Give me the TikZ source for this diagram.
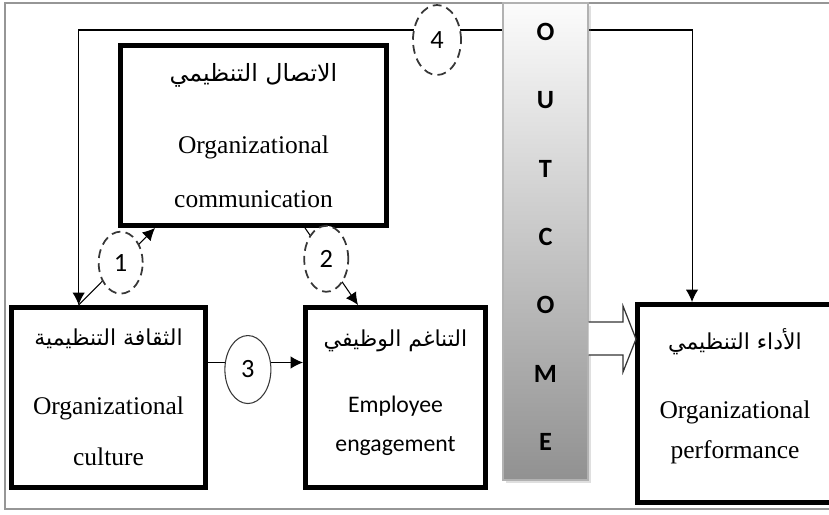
\documentclass[tikz,border=0pt]{standalone}
\usepackage{fontspec}
\setmainfont{Liberation Serif}
\newfontfamily\calfont{Carlito}
\newfontfamily\arabicfont[Script=Arabic]{DejaVu Sans}
\TeXXeTstate=1
\usetikzlibrary{arrows.meta,shapes.geometric,calc,shadows}
\definecolor{framegray}{RGB}{150,150,150}
\definecolor{dashgray}{RGB}{55,55,55}
\definecolor{bartop}{RGB}{252,252,252}
\definecolor{barbottom}{RGB}{145,145,145}

\newcommand{\artext}[1]{{\arabicfont\fontsize{12.5}{14}\selectfont\beginR #1\endR}}

\tikzset{
  varbox/.style={draw,line width=2.8pt,fill=white,align=center,inner sep=0pt,
    font=\fontsize{14.5}{17}\selectfont},
  link/.style={-{Latex[length=7pt,width=7pt]},line width=0.6pt},
  numdash/.style={ellipse,draw=dashgray,dash pattern=on 5pt off 3pt,line width=1pt,
    fill=white,inner sep=0pt,minimum width=0.88cm,minimum height=1.24cm,
    font=\calfont\fontsize{15}{15}\selectfont},
  numsolid/.style={ellipse,draw=dashgray,line width=0.6pt,fill=white,inner sep=0pt,
    minimum width=0.92cm,minimum height=1.36cm,font=\calfont\fontsize{15}{15}\selectfont},
  letter/.style={font=\calfont\bfseries\fontsize{15}{15}\selectfont}
}

\begin{document}
\begin{tikzpicture}[x=0.2mm,y=-0.2mm]
  \useasboundingbox (0,0) rectangle (829,514);
  \clip (0,0) rectangle (829,514);
  \draw[framegray,line width=0.8pt] (5,3) rectangle (850,509);

  % variables
  \node[varbox,minimum width=5.32cm,minimum height=3.6cm] (comm) at (253.5,135.5)
    {\artext{\fontsize{13.5}{14}\selectfont الاتصال التنظيمي}\\[24pt] Organizational\\[14pt] communication};
  \node[varbox,minimum width=3.88cm,minimum height=3.6cm] (culture) at (108.5,397.5)
    {\artext{الثقافة التنظيمية}\\[22pt] Organizational\\[12pt] culture};
  \node[varbox,minimum width=3.6cm,minimum height=3.6cm,
    font=\calfont\fontsize{13.5}{16}\selectfont] (engage) at (395.5,397.5)
    {\artext{التناغم الوظيفي}\\[22pt] Employee\\[6pt] engagement\\[-8pt]{}};
  \node[varbox,minimum width=3.9cm,minimum height=3.96cm] (perf) at (735,403.5)
    {\artext{الأداء التنظيمي}\\[22pt] Organizational\\[6pt] performance\\[-6pt]{}};

  \coordinate (cultin) at ($(culture.north west)!0.35!(culture.north east)$);
  \coordinate (perfin) at ($(perf.north west)+(57,0)$);
  \coordinate (fb) at (437,30);

  % feedback loop over the top
  \draw[{Latex[length=7pt,width=7pt]}-{Latex[length=7pt,width=7pt]},line width=0.6pt]
    (cultin) |- (fb) -| (perfin);
  \node[numdash,minimum width=0.96cm,minimum height=1.4cm] (n4) at (437,40) {4};

  % paths 1, 2, 3
  \draw[link] (cultin) -- node[numdash,pos=0.55] (n1) {1}
    ($(comm.south west)+(37,0)$);
  \draw[link] ($(comm.south west)+(187,0)$) -- node[numdash,pos=0.4,
    minimum height=1.32cm] (n2) {2} ($(engage.north west)+(55,0)$);
  \draw[link] ($(culture.east)+(0,-35)$) coordinate (c3a) --
    node[numsolid,pos=0.42,yshift=-4pt] (n3) {3} (c3a -| engage.west);

  % outcome bar
  \node[draw=gray!60,line width=0.6pt,top color=bartop,bottom color=barbottom,
    minimum width=1.7cm,minimum height=9.54cm,
    drop shadow={opacity=0.25,shadow xshift=1.5pt,shadow yshift=-1.5pt}]
    (outcome) at (545.5,241.5) {};
  \foreach \l [count=\i] in {O,U,T,C,O,M,E}
    \node[letter] (l\i) at (545.5,{32+68.3*(\i-1)}) {\l};

  % hollow arrow into performance
  \draw[gray!40!black,line width=0.7pt,fill=white]
    ($(outcome.east)+(0,80.5)$) -- (623,322) -- (623,306) -- (636,339)
    -- (623,372) -- (623,355) -- ($(outcome.east)+(0,113.5)$);
\end{tikzpicture}
\end{document}
